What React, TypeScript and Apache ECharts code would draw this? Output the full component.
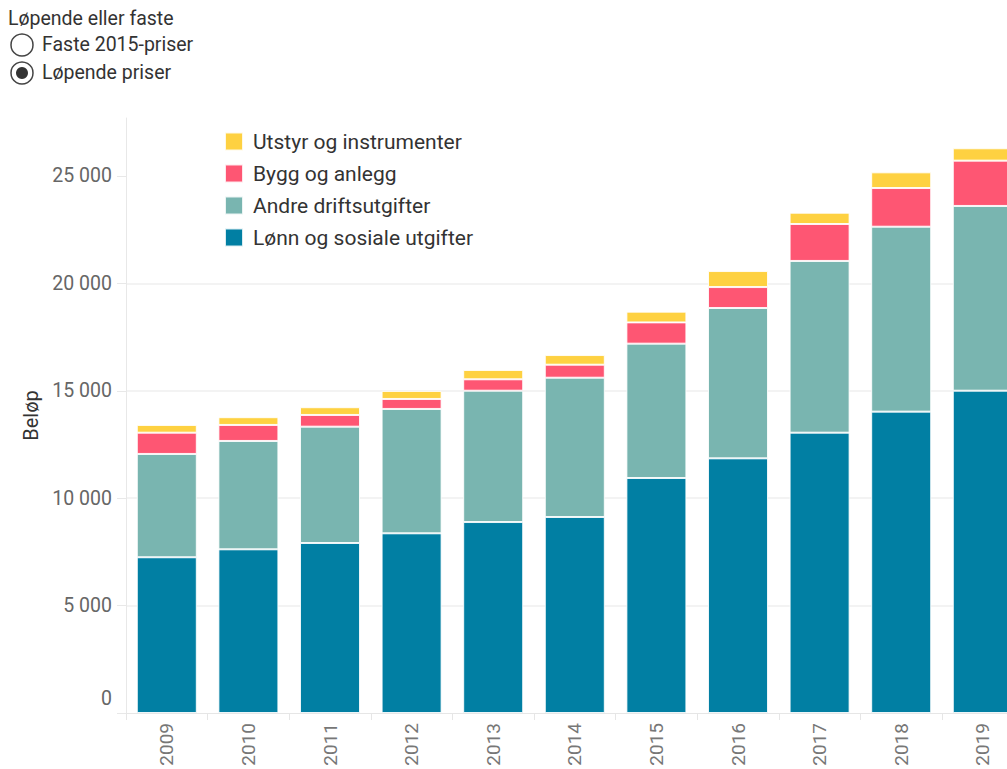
import React, { useEffect, useRef } from "react";
import * as echarts from "echarts";

const years = ["2009", "2010", "2011", "2012", "2013", "2014", "2015", "2016", "2017", "2018", "2019"];
const lonn = [7250, 7620, 7915, 8365, 8890, 9125, 10940, 11855, 13050, 14030, 15005];
const andre = [4810, 5045, 5415, 5790, 6115, 6485, 6255, 7000, 7995, 8610, 8600];
const bygg = [990, 745, 545, 465, 530, 605, 990, 975, 1720, 1800, 2110];
const utstyr = [360, 360, 360, 375, 435, 450, 500, 745, 525, 730, 575];
const yTicks = [0, 5000, 10000, 15000, 20000, 25000];
const seriesNames = ["Lønn og sosiale utgifter", "Andre driftsutgifter", "Bygg og anlegg", "Utstyr og instrumenter"];
const seriesColors = ["#017fa3", "#79b5b0", "#fe5673", "#fed141"];
const radioTitle = "Løpende eller faste";
const radioOptions = ["Faste 2015-priser", "Løpende priser"];

const FONT = "Roboto";

export default function App() {
  const ref = useRef<HTMLDivElement>(null);
  useEffect(() => {
    if (!ref.current) return;
    const chart = echarts.init(ref.current, null, { renderer: "svg" });
    const values = [lonn, andre, bygg, utstyr];
    const fmt = (v: number) => String(v).replace(/\B(?=(\d{3})+(?!\d))/g, " ");
    chart.setOption({
      animation: false,
      backgroundColor: "#ffffff",
      grid: {
        left: 126,
        top: 118,
        right: 26.4,
        bottom: 56,
        containLabel: false,
        outerBoundsMode: "none",
      },
      legend: {
        orient: "vertical",
        left: 219,
        top: 126,
        itemWidth: 18,
        itemHeight: 18,
        itemGap: 11,
        icon: "rect",
        data: [...seriesNames].reverse(),
        textStyle: {
          fontFamily: FONT,
          fontSize: 21,
          color: "#333",
          padding: [0, 0, 0, 5],
        },
      },
      xAxis: {
        type: "category",
        data: years,
        axisLine: { show: true, lineStyle: { color: "#e6e6e6", width: 1 } },
        axisTick: { show: true, length: 7, alignWithLabel: false, lineStyle: { color: "#e6e6e6" } },
        axisLabel: {
          rotate: 90,
          margin: 10,
          fontFamily: FONT,
          fontSize: 19,
          color: "#777",
        },
        splitLine: { show: false },
      },
      yAxis: {
        type: "value",
        min: 0,
        max: 27700,
        interval: 5000,
        name: "Beløp",
        nameLocation: "middle",
        nameGap: 85,
        nameRotate: 90,
        nameTextStyle: { fontFamily: FONT, fontSize: 20, color: "#333" },
        axisLine: { show: true, lineStyle: { color: "#e8e8e8", width: 1 } },
        axisTick: { show: true, length: 9, customValues: yTicks, lineStyle: { color: "#e8e8e8" } },
        axisLabel: {
          margin: 14,
          customValues: yTicks,
          fontFamily: FONT,
          fontSize: 19.5,
          color: "#666",
          formatter: (v: number) => (v === 0 ? "{z|0}" : fmt(v)),
          rich: {
            z: { padding: [0, 0, 30, 0], fontFamily: FONT, fontSize: 19.5, color: "#666" },
          },
        },
        splitLine: { show: true, showMaxLine: false, showMinLine: false, lineStyle: { color: "#efefef", width: 1.5 } },
      },
      series: seriesNames.map((name, i) => ({
        name,
        type: "bar",
        stack: "total",
        barWidth: 60,
        data: values[i],
        itemStyle: { color: seriesColors[i], borderColor: "rgba(255,255,255,0.85)", borderWidth: 1 },
        emphasis: { disabled: true },
      })),
      graphic: [
        {
          type: "text",
          x: 8,
          y: 18,
          style: { text: radioTitle, fontFamily: FONT, fontSize: 19.5, fill: "#333", verticalAlign: "middle" },
        },
        {
          type: "circle",
          shape: { cx: 22, cy: 45, r: 11 },
          style: { fill: "#fff", stroke: "#444", lineWidth: 1.5 },
        },
        {
          type: "text",
          x: 42,
          y: 44,
          style: { text: radioOptions[0], fontFamily: FONT, fontSize: 19.5, fill: "#333", verticalAlign: "middle" },
        },
        {
          type: "circle",
          shape: { cx: 22, cy: 73, r: 11 },
          style: { fill: "#fff", stroke: "#444", lineWidth: 1.5 },
        },
        {
          type: "circle",
          shape: { cx: 22, cy: 73, r: 6 },
          style: { fill: "#333" },
        },
        {
          type: "text",
          x: 42,
          y: 72,
          style: { text: radioOptions[1], fontFamily: FONT, fontSize: 19.5, fill: "#333", verticalAlign: "middle" },
        },
      ],
    });
    return () => chart.dispose();
  }, []);
  return (
    <div
      style={{
        position: "absolute",
        left: 0,
        top: 0,
        width: 1007,
        height: 769,
        overflow: "hidden",
        background: "#fff",
      }}
    >
      <div ref={ref} style={{ width: 1050, height: 769 }} />
    </div>
  );
}
